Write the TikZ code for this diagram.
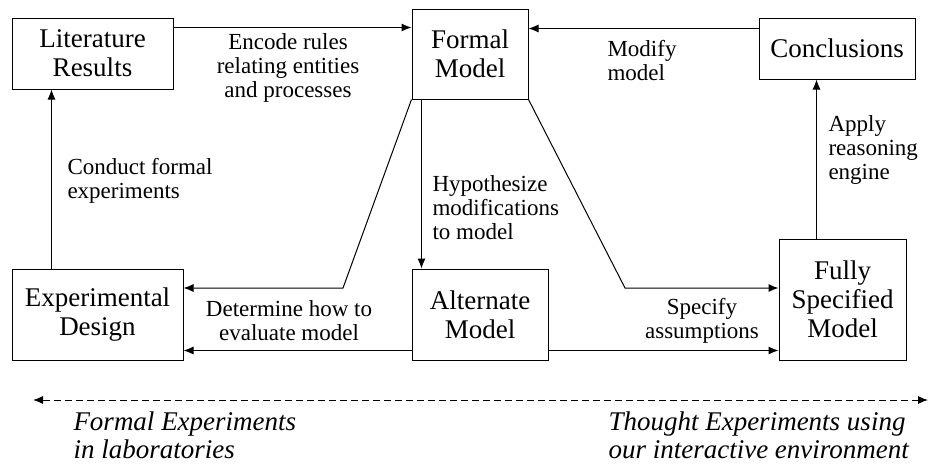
\documentclass[tikz,border=0pt]{standalone}
\usepackage{fontspec}
\setmainfont{Liberation Serif}
\usetikzlibrary{calc,arrows.meta}

\begin{document}
\begin{tikzpicture}[x=1pt,y=-1pt,line width=1pt,
  box/.style={draw,inner sep=0pt,align=center,font=\fontsize{27}{29}\selectfont},
  lbl/.style={inner sep=0pt,font=\fontsize{23}{24}\selectfont},
  note/.style={inner sep=0pt,align=left,font=\fontsize{27}{28}\selectfont\itshape},
  arr/.style={-{Latex[length=10pt,width=8pt]}}]
\useasboundingbox (0,0) rectangle (942,464);
\node[box,minimum width=161pt,minimum height=71pt] (lit) at (92.5,53.5) {Literature\\Results};
\node[box,minimum width=116pt,minimum height=90pt] (formal) at (470,54) {Formal\\Model};
\node[box,minimum width=156pt,minimum height=61pt] (concl) at (837,48.5) {Conclusions};
\node[box,minimum width=171pt,minimum height=91pt] (expd) at (97.5,314.5) {Experimental\\Design};
\node[box,minimum width=136pt,minimum height=91pt] (alt) at (480,314.5) {Alternate\\Model};
\node[box,minimum width=127pt,minimum height=121pt] (fsm) at (842.5,299.5) {Fully\\Specified\\Model};
\coordinate (bendL) at (343,288);
\coordinate (bendR) at (625,288);
\draw[arr] ($(lit.north east)+(0,10)$) -- ($(formal.north west)+(0,19)$);
\draw[arr] ($(concl.north west)+(0,11)$) -- ($(formal.north east)+(0,20)$);
\draw[arr] ($(expd.north west)+(40,0)$) -- ($(lit.south west)+(40,0)$);
\draw[arr] ($(formal.south west)+(10,0)$) -- ($(alt.north west)+(10,0)$);
\draw[arr] ($(fsm.north west)+(38,0)$) -- ($(concl.south west)+(58,0)$);
\draw[arr] (formal.south west) -- (bendL) -- (bendL -| expd.east);
\draw[arr] (formal.south east) -- (bendR) -- (bendR -| fsm.west);
\draw[arr] ($(alt.south west)+(0,-10)$) -- ($(expd.south east)+(0,-10)$);
\draw[arr] ($(alt.south east)+(0,-10)$) -- ($(fsm.south west)+(0,-10)$);
\node[lbl,align=center] (encode) at (288,68) {Encode rules\\relating entities\\and processes};
\node[lbl,align=left,anchor=west] (modify) at (607,61) {Modify\\model};
\node[lbl,align=left,anchor=west] (conduct) at (67,181) {Conduct formal\\experiments};
\node[lbl,align=left,anchor=west] (hypo) at (432,208) {Hypothesize\\modifications\\to model};
\node[lbl,align=left,anchor=west] (apply) at (828,150) {Apply\\reasoning\\engine};
\node[lbl,align=center] (determine) at (289,321) {Determine how to\\evaluate model};
\node[lbl,align=center] (specify) at (702,321) {Specify\\assumptions};
% scale of experiment types
\coordinate (sl) at (33,400);
\coordinate (sr) at (928,400);
\draw[dash pattern=on 7pt off 4pt,{Latex[length=10pt,width=8pt]}-{Latex[length=10pt,width=8pt]}] (sl) -- (sr);
\node[note,anchor=north west] (formalexp) at (73,411) {Formal Experiments\\in laboratories};
\node[note,anchor=north west] (thoughtexp) at (608,411) {Thought Experiments using\\our interactive environment};
\end{tikzpicture}
\end{document}
